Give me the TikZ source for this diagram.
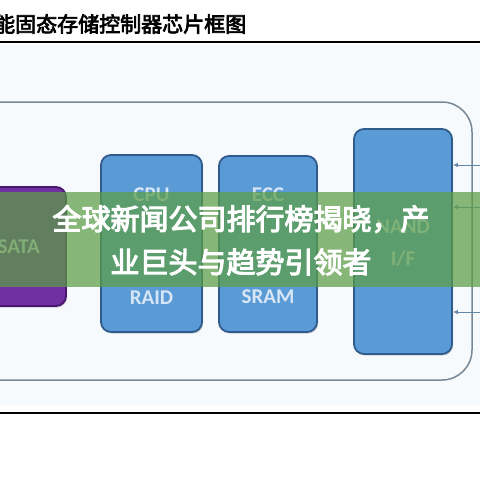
\documentclass[tikz,border=0pt]{standalone}
\usepackage{fontspec}
\setmainfont{Carlito}
\newfontfamily\cjkb{Noto Sans CJK SC}
\newcommand\heavytext[2]{\special{pdf:literal direct #1 w 2 Tr}#2\special{pdf:literal direct 0 Tr}}
\usetikzlibrary{arrows.meta,shadows}
\definecolor{boxblue}{RGB}{91,155,213}
\definecolor{boxedge}{RGB}{47,92,140}
\definecolor{purp}{RGB}{112,48,160}
\definecolor{purpedge}{RGB}{72,24,110}
\definecolor{frame}{RGB}{120,135,150}
\definecolor{arrcol}{RGB}{100,135,170}
\definecolor{boxtext}{RGB}{215,230,246}
\definecolor{bandgreen}{RGB}{92,158,70}
\definecolor{tint}{RGB}{246,250,252}
\tikzset{
  chip/.style={rounded corners=10pt, fill=boxblue, draw=boxedge, line width=1.8pt,
    minimum width=#1, inner sep=0pt,
    drop shadow={shadow xshift=1.2pt, shadow yshift=-1.5pt, opacity=0.35}},
  chiplabel/.style={text=boxtext, font=\bfseries\fontsize{21}{24}\selectfont, inner sep=0pt},
  inarrow/.style={draw=arrcol, line width=1pt, -{Latex[length=5pt,width=4.5pt]}},
  bandtext/.style={text=white, font=\cjkb\fontsize{29}{32}\selectfont, inner sep=0pt}
}
\begin{document}
\begin{tikzpicture}[x=1pt,y=-1pt]
\useasboundingbox (0,0) rectangle (480,480);
\clip (0,0) rectangle (480,480);
\fill[white] (0,0) rectangle (480,480);
\fill[tint] (0,45) rectangle (480,405);
% title
\node[anchor=west, inner sep=0pt, font=\cjkb\fontsize{21}{24}\selectfont] (title) at (-6,24) {\heavytext{0.7}{能固态存储控制器芯片框图}};
\draw[black, line width=1.4pt] (0,42) -- (480,42);
\draw[black, line width=1.4pt] (0,413) -- (480,413);
% outer frame
\draw[frame, line width=1.5pt, rounded corners=30pt] (-30,102) rectangle (472,380);
% boxes
\node[chip=105pt, minimum height=119pt, fill=purp, draw=purpedge] (sata) at (13.5,246.5) {};
\node[chip=101pt, minimum height=177pt] (cpu) at (151.5,243.5) {};
\node[chip=98pt, minimum height=176pt] (ecc) at (268,244) {};
\node[chip=98pt, minimum height=225pt] (nand) at (403,241.5) {};
% labels
\node[chiplabel, anchor=east, text={rgb,255:red,225;green,210;blue,240}] (tsata) at (40,247) {SATA};
\node[chiplabel] (tcpu) at (cpu.center |- 0,195) {CPU};
\node[chiplabel] (traid) at (cpu.center |- 0,298) {RAID};
\node[chiplabel] (tecc) at (ecc.center |- 0,195) {ECC};
\node[chiplabel] (tsram) at (ecc.center |- 0,297) {SRAM};
\node[chiplabel] (tnand) at (nand.center |- 0,227) {NAND};
\node[chiplabel] (tif) at (nand.center |- 0,259) {I/F};
% arrows
\coordinate (a1) at (482,165);
\coordinate (a2) at (482,207);
\coordinate (a3) at (482,312);
\draw[inarrow] (a1) -- (a1 -| nand.east);
\draw[inarrow] (a2) -- (a2 -| nand.east);
\draw[inarrow] (a3) -- (a3 -| nand.east);
% banner
\fill[bandgreen, opacity=0.72] (0,192) rectangle (480,287);
\node[bandtext] (b1) at (241,219) {\heavytext{1.1}{全球新闻公司排行榜揭晓，产}};
\node[bandtext] (b2) at (241,262) {\heavytext{1.1}{业巨头与趋势引领者}};
\end{tikzpicture}
\end{document}
